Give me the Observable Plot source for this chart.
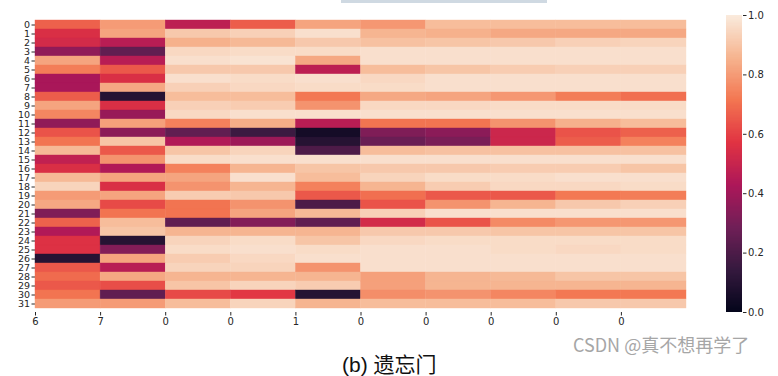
<!DOCTYPE html>
<html>
<head>
<meta charset="utf-8">
<script src="https://cdn.jsdelivr.net/npm/d3@7"></script>
<script src="https://cdn.jsdelivr.net/npm/@observablehq/plot@0.6"></script>
<style>
  html, body { margin: 0; padding: 0; background: #fff; }
  #wrap { position: relative; width: 778px; height: 376px; overflow: hidden; }
  #heat { position: absolute; left: 0; top: 0; }
  #cbar { position: absolute; left: 690px; top: 0; }
  #topbar { position: absolute; left: 341px; top: 0; width: 206px; height: 3px; background: #cfd9e2; }
  #caption { position: absolute; left: 342px; top: 348px; font-family: "Liberation Sans", "Noto Sans CJK SC", sans-serif; font-size: 21px; color: #111; white-space: nowrap; }
  #mark { position: absolute; left: 573px; top: 331px; font-family: "Noto Sans CJK SC", "Liberation Sans", sans-serif; font-size: 18px; color: #a6a6a6; white-space: nowrap; }
  #heat svg g[aria-label="y-axis tick label"] text { font-size: 9.5px; }
</style>
</head>
<body>
<div id="wrap">
  <div id="topbar"></div>
  <div id="heat"></div>
  <div id="cbar"></div>
  <div id="caption">(b) 遗忘门</div>
  <div id="mark">CSDN @真不想再学了</div>
</div>
<script>
// tick labels
const rowLabels = d3.range(32).map(String);
const colLabels = ["6", "7", "0", "0", "1", "0", "0", "0", "0", "0"];
const colorbarTicks = [0, 0.2, 0.4, 0.6, 0.8, 1.0];

// forget-gate activations, one array per row (10 columns each)
const gateValues = [
  [0.67, 0.80, 0.47, 0.66, 0.82, 0.79, 0.88, 0.88, 0.88, 0.88],
  [0.55, 0.82, 0.91, 0.93, 0.97, 0.86, 0.85, 0.83, 0.83, 0.83],
  [0.53, 0.46, 0.85, 0.87, 0.91, 0.89, 0.90, 0.91, 0.93, 0.94],
  [0.36, 0.25, 0.95, 0.96, 0.96, 0.97, 0.97, 0.97, 0.97, 0.97],
  [0.82, 0.46, 0.97, 0.98, 0.83, 0.97, 0.97, 0.97, 0.97, 0.97],
  [0.73, 0.65, 0.91, 0.91, 0.47, 0.88, 0.90, 0.92, 0.93, 0.93],
  [0.42, 0.55, 0.97, 0.96, 0.97, 0.95, 0.97, 0.97, 0.97, 0.97],
  [0.42, 0.83, 0.93, 0.95, 0.96, 0.96, 0.97, 0.97, 0.97, 0.97],
  [0.66, 0.10, 0.88, 0.88, 0.72, 0.83, 0.82, 0.79, 0.73, 0.70],
  [0.82, 0.55, 0.93, 0.92, 0.78, 0.95, 0.95, 0.96, 0.96, 0.96],
  [0.75, 0.38, 0.95, 0.97, 0.97, 0.97, 0.97, 0.97, 0.97, 0.97],
  [0.36, 0.81, 0.74, 0.84, 0.46, 0.71, 0.71, 0.78, 0.85, 0.88],
  [0.64, 0.35, 0.25, 0.16, 0.05, 0.32, 0.35, 0.51, 0.64, 0.67],
  [0.71, 0.90, 0.44, 0.39, 0.10, 0.27, 0.31, 0.51, 0.66, 0.74],
  [0.87, 0.65, 0.90, 0.94, 0.20, 0.88, 0.89, 0.89, 0.89, 0.89],
  [0.48, 0.78, 0.96, 0.97, 0.97, 0.97, 0.97, 0.97, 0.97, 0.97],
  [0.55, 0.44, 0.74, 0.86, 0.90, 0.91, 0.91, 0.92, 0.92, 0.90],
  [0.87, 0.82, 0.82, 0.97, 0.88, 0.94, 0.96, 0.96, 0.97, 0.97],
  [0.94, 0.55, 0.78, 0.86, 0.74, 0.86, 0.92, 0.95, 0.95, 0.96],
  [0.80, 0.82, 0.92, 0.91, 0.65, 0.70, 0.65, 0.65, 0.72, 0.73],
  [0.83, 0.62, 0.71, 0.78, 0.20, 0.64, 0.78, 0.86, 0.91, 0.93],
  [0.32, 0.71, 0.71, 0.82, 0.87, 0.93, 0.97, 0.97, 0.97, 0.97],
  [0.67, 0.88, 0.25, 0.33, 0.25, 0.53, 0.64, 0.76, 0.79, 0.79],
  [0.44, 0.90, 0.86, 0.86, 0.86, 0.91, 0.91, 0.90, 0.90, 0.90],
  [0.56, 0.10, 0.94, 0.96, 0.90, 0.95, 0.96, 0.96, 0.96, 0.96],
  [0.56, 0.33, 0.96, 0.97, 0.96, 0.97, 0.97, 0.96, 0.95, 0.96],
  [0.10, 0.82, 0.92, 0.95, 0.97, 0.97, 0.97, 0.97, 0.97, 0.97],
  [0.65, 0.46, 0.94, 0.94, 0.78, 0.97, 0.97, 0.97, 0.97, 0.97],
  [0.69, 0.83, 0.86, 0.86, 0.86, 0.81, 0.86, 0.87, 0.90, 0.90],
  [0.65, 0.63, 0.90, 0.94, 0.92, 0.81, 0.86, 0.86, 0.86, 0.86],
  [0.71, 0.25, 0.62, 0.58, 0.10, 0.77, 0.78, 0.75, 0.72, 0.72],
  [0.80, 0.80, 0.88, 0.94, 0.86, 0.88, 0.88, 0.88, 0.91, 0.91]
];

// seaborn "rocket" colormap stops
const rocketStops = [0, 1/7, 2/7, 3/7, 4/7, 5/7, 6/7, 1];
const rocketColors = ["#03051a", "#35193e", "#701f57", "#ad1759", "#e13342", "#f37651", "#f6b48f", "#faebdd"];

const cells = gateValues.flatMap((row, i) => row.map((v, j) => ({row: i, col: j, v})));
const colorScale = {type: "linear", domain: rocketStops, range: rocketColors, clamp: true};

const heat = Plot.plot({
  width: 778,
  height: 330,
  marginLeft: 35,
  marginRight: 92,
  marginTop: 15,
  marginBottom: 18,
  style: {fontFamily: "DejaVu Sans", fontSize: "10px", color: "#262626", background: "transparent"},
  x: {type: "linear", domain: [0, 10], ticks: d3.range(10), tickFormat: i => colLabels[i], label: null, tickSize: 3.5, tickPadding: 2},
  y: {type: "band", domain: d3.range(32), padding: 0, tickFormat: i => rowLabels[i], label: null, tickSize: 3.5, tickPadding: 2},
  color: colorScale,
  marks: [
    Plot.barX(cells, {x1: "col", x2: d => d.col + 1, y: "row", fill: "v", stroke: "v", strokeWidth: 0.4, inset: 0})
  ]
});
document.getElementById("heat").appendChild(heat);

const step = 0.004;
const gradient = d3.range(0, 1, step);
const cbar = Plot.plot({
  width: 88,
  height: 330,
  marginLeft: 36,
  marginRight: 36,
  marginTop: 15,
  marginBottom: 18,
  style: {fontFamily: "DejaVu Sans", fontSize: "10px", color: "#262626", background: "transparent"},
  x: {domain: [0, 1], axis: null},
  y: {domain: [0, 1], axis: "right", ticks: colorbarTicks, tickFormat: d3.format(".1f"), label: null, tickSize: 3.5, tickPadding: 2},
  color: colorScale,
  marks: [
    Plot.rect(gradient, {x1: 0, x2: 1, y1: d => d, y2: d => Math.min(1, d + step), fill: d => d + step / 2, shapeRendering: "crispEdges"})
  ]
});
document.getElementById("cbar").appendChild(cbar);
</script>
</body>
</html>
